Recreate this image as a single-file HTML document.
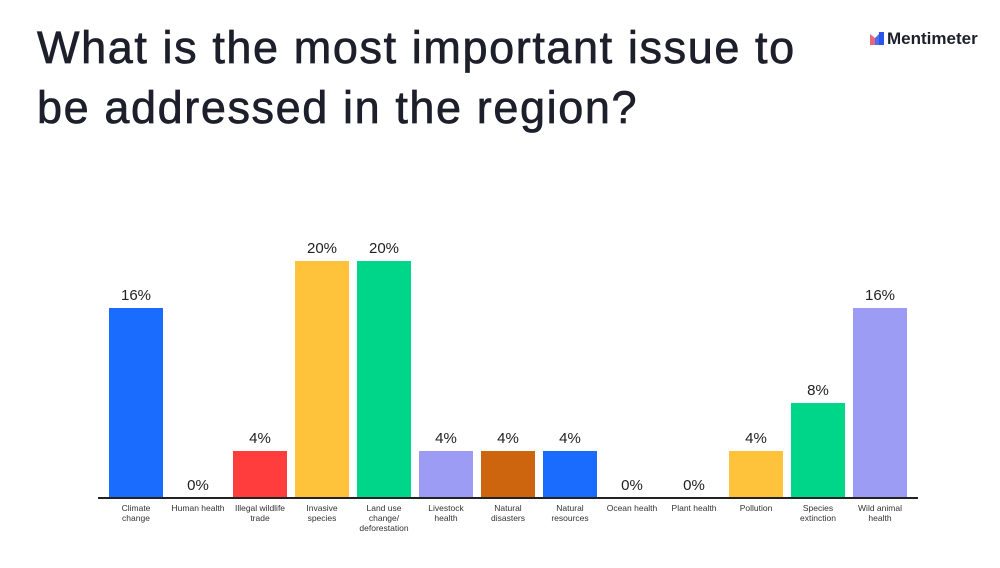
<!DOCTYPE html>
<html><head><meta charset="utf-8"><style>
body{margin:0;width:1000px;height:568px;background:#fff;position:relative;overflow:hidden;font-family:"Liberation Sans",sans-serif;color:#1d1d29}
.t{position:absolute;left:37px;top:18px;font-size:45px;line-height:60px;font-weight:400;letter-spacing:1.6px;color:#1d1f2b;white-space:nowrap;-webkit-text-stroke:0.7px #1d1f2b}
.logo{position:absolute;left:870px;top:29px;font-size:17px;font-weight:bold;color:#1d1f2b}
.b{position:absolute;width:54px}
.p{position:absolute;width:54px;text-align:center;font-size:15px;color:#222}
.l{position:absolute;width:64px;text-align:center;font-size:8.5px;line-height:10px;top:503px;color:#333}
.ax{position:absolute;left:98px;top:497px;width:820px;height:2px;background:#222}
</style></head><body>
<div class="t">What is the most important issue to<br>be addressed in the region?</div>
<div class="logo"><svg width="14" height="13" style="vertical-align:-1px;margin-right:3px"><path d="M0 2L5 6V13H0Z" fill="#e8677a"/><path d="M5 6L9 2V13H5Z" fill="#4d6ef0"/><path d="M9 0H14V13H9Z" fill="#2a55ec"/></svg>Mentimeter</div>
<div id="c"></div>
<div class="ax"></div>
<script>
var d=[["Climate<br>change",16,"#1a6bff"],["Human health",0,"#1a6bff"],["Illegal wildlife<br>trade",4,"#ff3d3d"],["Invasive<br>species",20,"#ffc23a"],["Land use<br>change/<br>deforestation",20,"#00d68a"],["Livestock<br>health",4,"#9c9cf5"],["Natural<br>disasters",4,"#cc650e"],["Natural<br>resources",4,"#1a6bff"],["Ocean health",0,"#1a6bff"],["Plant health",0,"#1a6bff"],["Pollution",4,"#ffc23a"],["Species<br>extinction",8,"#00d68a"],["Wild animal<br>health",16,"#9c9cf5"]];
var h="";d.forEach(function(e,i){var x=109+62*i,ht=e[1]*11.85,top=498-ht;
if(ht>0)h+='<div class="b" style="left:'+x+'px;top:'+top+'px;height:'+ht+'px;background:'+e[2]+'"></div>';
h+='<div class="p" style="left:'+x+'px;top:'+(top-21)+'px">'+e[1]+'%</div>';
h+='<div class="l" style="left:'+(x-5)+'px">'+e[0]+'</div>';});
document.getElementById("c").innerHTML=h;
</script>
</body></html>
